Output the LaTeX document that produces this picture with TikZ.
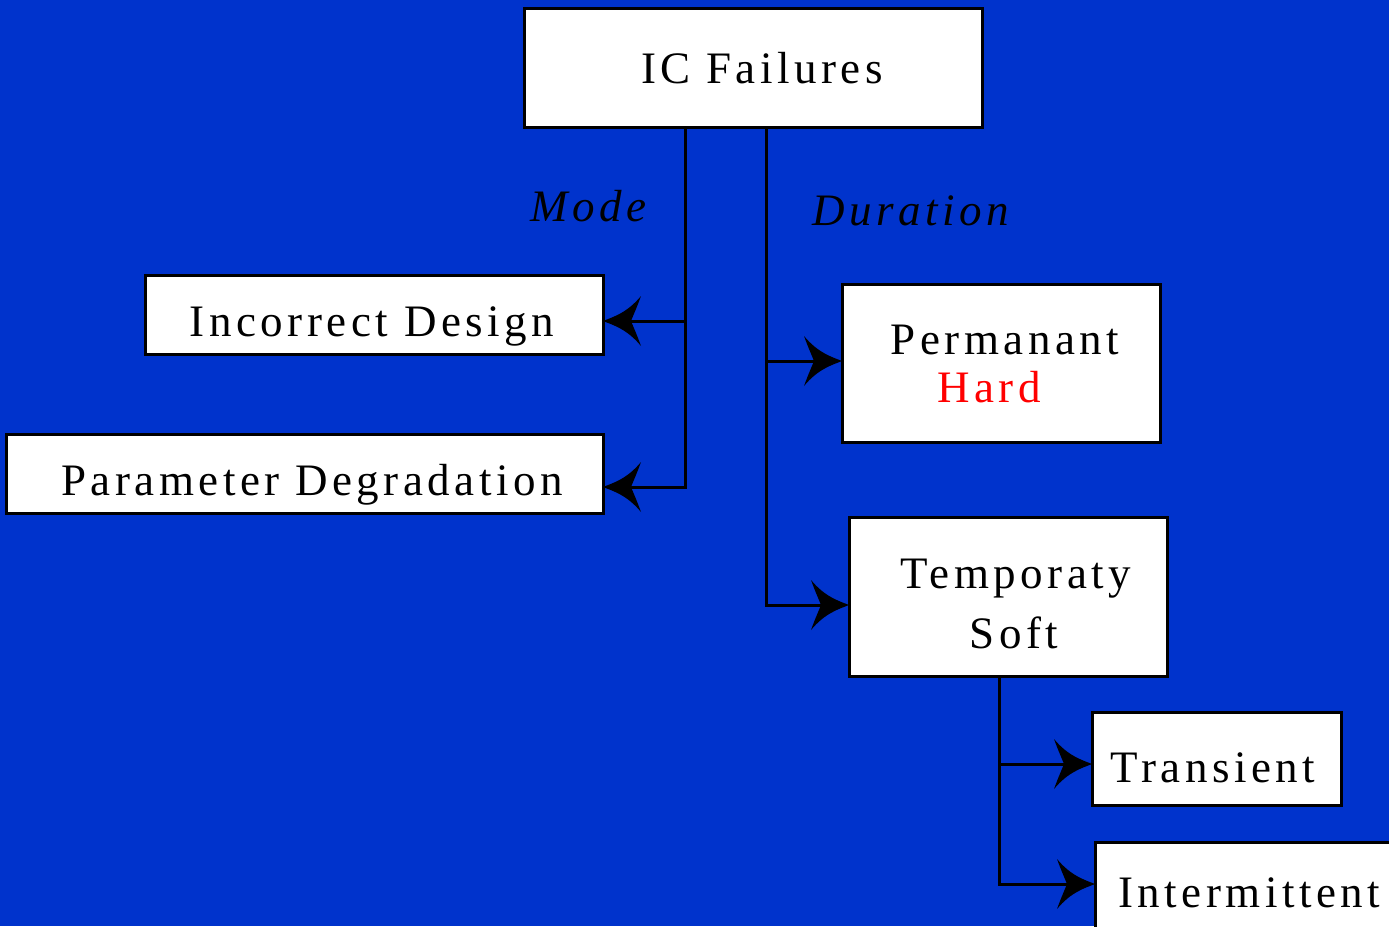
\documentclass[tikz,border=0pt]{standalone}
\usepackage{fontspec}
\setmainfont{Liberation Serif}[LetterSpace=10]
\usetikzlibrary{arrows.meta}
\definecolor{bgblue}{RGB}{0,51,204}
\pgfdeclarearrow{
  name = CurvyHead,
  parameters = {},
  setup code = {
    \pgfarrowssettipend{0pt}
    \pgfarrowssetlineend{-18pt}
    \pgfarrowssetvisualbackend{-38pt}
    \pgfarrowssetbackend{-38pt}
    \pgfarrowshullpoint{0pt}{0pt}
    \pgfarrowsupperhullpoint{-38pt}{25pt}
  },
  drawing code = {
    \pgfpathmoveto{\pgfpoint{0pt}{0pt}}
    \pgfpathcurveto{\pgfpoint{-10pt}{4pt}}{\pgfpoint{-24pt}{8pt}}{\pgfpoint{-38pt}{25pt}}
    \pgfpathcurveto{\pgfpoint{-34pt}{14pt}}{\pgfpoint{-30pt}{5pt}}{\pgfpoint{-28pt}{0pt}}
    \pgfpathcurveto{\pgfpoint{-30pt}{-5pt}}{\pgfpoint{-34pt}{-14pt}}{\pgfpoint{-38pt}{-25pt}}
    \pgfpathcurveto{\pgfpoint{-24pt}{-8pt}}{\pgfpoint{-10pt}{-4pt}}{\pgfpoint{0pt}{0pt}}
    \pgfpathclose
    \pgfusepathqfill
  },
  defaults = {}
}
\tikzset{
  box/.style={draw=black, fill=white, line width=3pt, minimum width=#1, inner sep=0pt, outer sep=0pt},
  lbl/.style={anchor=base, inner sep=0pt, font=\fontsize{45}{54}\selectfont},
  ilbl/.style={lbl, font=\fontsize{45}{54}\selectfont\itshape},
  conn/.style={draw=black, line width=3pt, -{CurvyHead}}
}
\begin{document}
\begin{tikzpicture}[x=1pt,y=-1pt]
\fill[bgblue] (0,0) rectangle (1389,926);
\useasboundingbox (0,0) rectangle (1389,926);
\clip (0,0) rectangle (1389,926);
% boxes
\node[box=458pt, minimum height=119pt] (ic) at (753,67.5) {};
\node[box=458pt, minimum height=79pt] (incorrect) at (374,314.5) {};
\node[box=597pt, minimum height=79pt] (param) at (304.5,473.5) {};
\node[box=318pt, minimum height=158pt] (perm) at (1001,363) {};
\node[box=318pt, minimum height=159pt] (temp) at (1008,596.5) {};
\node[box=249pt, minimum height=93pt] (trans) at (1216.5,758.5) {};
\node[box=320pt, minimum height=110pt] (inter) at (1255,897) {};
% texts
\node[lbl] (tic) at (762,83) {IC Failures};
\node[lbl] (tinc) at (372,336) {Incorrect Design};
\node[lbl] (tpar) at (312,495) {Parameter Degradation};
\node[lbl] (tperm) at (1005,354) {Permanant};
\node[lbl, text=red] (thard) at (989,402) {Hard};
\node[lbl] (ttemp) at (1016,588) {Temporaty};
\node[lbl] (tsoft) at (1014,648) {Soft};
\node[lbl] (ttrans) at (1213,782) {Transient};
\node[lbl] (tint) at (1249,907) {Intermittent};
\node[ilbl] (tmode) at (588,221) {Mode};
\node[ilbl] (tdur) at (911,225) {Duration};
% junction coordinates
\coordinate (mj) at (685,0);
\coordinate (dj) at (766,0);
\coordinate (sj) at (999,0);
% connectors
\draw[conn] (ic.south -| mj) |- ([yshift=-6.5pt]incorrect.east);
\draw[conn] (ic.south -| mj) |- ([yshift=-13.5pt]param.east);
\draw[conn] (ic.south -| dj) |- ([yshift=2pt]perm.west);
\draw[conn] (ic.south -| dj) |- ([yshift=-8.5pt]temp.west);
\draw[conn] (temp.south -| sj) |- ([yshift=-5.5pt]trans.west);
\draw[conn] (temp.south -| sj) |- ([yshift=13pt]inter.west);
\end{tikzpicture}
\end{document}
